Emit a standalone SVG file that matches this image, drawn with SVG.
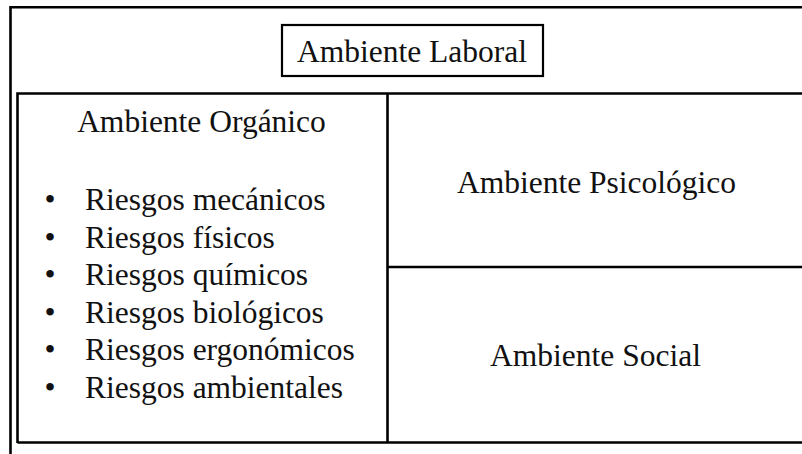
<svg xmlns="http://www.w3.org/2000/svg" width="802" height="454" viewBox="0 0 802 454">
<style>
.ln{stroke:#000;stroke-width:2.6;fill:none}
.bx{stroke:#000;stroke-width:2.2;fill:#fff}
text{font-family:"Liberation Serif","Times New Roman",serif;font-size:31.5px;fill:#111}
.c{text-anchor:middle}
</style>
<rect width="802" height="454" fill="#fff"/>
<g id="frame">
<path class="ln" d="M10.5 454V7.3H802"/>
<path class="ln" d="M17.5 443V93.5H802M17.5 442.5H802M387.5 93.5V442.5M387.5 267H802"/>
</g>
<g id="ambiente-laboral">
<rect class="bx" x="282" y="25" width="261" height="51"/>
<text class="c" x="412" y="62">Ambiente Laboral</text>
</g>
<g id="ambiente-organico">
<text class="c" x="201.5" y="132">Ambiente Orgánico</text>
<text x="50" y="210" class="c">•</text><text x="85" y="210">Riesgos mecánicos</text>
<text x="50" y="247.6" class="c">•</text><text x="85" y="247.6">Riesgos físicos</text>
<text x="50" y="285.2" class="c">•</text><text x="85" y="285.2">Riesgos químicos</text>
<text x="50" y="322.8" class="c">•</text><text x="85" y="322.8">Riesgos biológicos</text>
<text x="50" y="360.4" class="c">•</text><text x="85" y="360.4">Riesgos ergonómicos</text>
<text x="50" y="398" class="c">•</text><text x="85" y="398">Riesgos ambientales</text>
</g>
<g id="ambiente-psicologico">
<text class="c" x="596.5" y="193">Ambiente Psicológico</text>
</g>
<g id="ambiente-social">
<text class="c" x="595.5" y="366">Ambiente Social</text>
</g>
<g id="connectors"/>
</svg>
